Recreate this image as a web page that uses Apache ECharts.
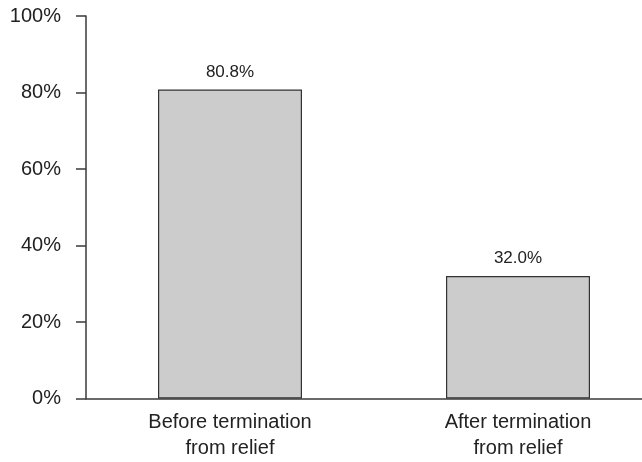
<!DOCTYPE html>
<html>
<head>
<meta charset="utf-8">
<script src="https://cdn.jsdelivr.net/npm/echarts@6/dist/echarts.min.js"></script>
<style>
  html, body { margin: 0; padding: 0; background: #fff; }
  #chart { width: 642px; height: 462px; }
</style>
</head>
<body>
<div id="chart"></div>
<script>
const categories = ["Before termination\nfrom relief", "After termination\nfrom relief"];
const values = [80.8, 32.0];
const yTicks = [0, 20, 40, 60, 80, 100];

const chart = echarts.init(document.getElementById("chart"));
const axisColor = "#3a3a3a";
const font = "Liberation Sans, Arial, sans-serif";

chart.setOption({
  animation: false,
  // plot runs past the right edge, as in the original (axis line clipped by the canvas)
  grid: {
    left: 86, width: 576, top: 16, bottom: 63.5,
    containLabel: false,
    outerBoundsMode: "none"
  },
  xAxis: {
    type: "category",
    data: categories,
    axisLine: { lineStyle: { color: axisColor, width: 1.5 } },
    axisTick: { show: false },
    axisLabel: {
      color: "#222",
      fontFamily: font,
      fontSize: 20,
      lineHeight: 26,
      margin: 11
    }
  },
  yAxis: {
    type: "value",
    min: yTicks[0],
    max: yTicks[yTicks.length - 1],
    interval: 20,
    splitLine: { show: false },
    axisLine: { show: true, lineStyle: { color: axisColor, width: 1.5 } },
    axisTick: { show: true, length: 10, lineStyle: { color: axisColor, width: 1.5 } },
    axisLabel: {
      color: "#222",
      fontFamily: font,
      fontSize: 20,
      margin: 25,
      formatter: "{value}%"
    }
  },
  series: [{
    type: "bar",
    data: values,
    barWidth: "50%",
    itemStyle: { color: "#cccccc", borderColor: "#333", borderWidth: 1.2 },
    label: {
      show: true,
      position: "top",
      distance: 9,
      color: "#222",
      fontFamily: font,
      fontSize: 17,
      formatter: p => p.value.toFixed(1) + "%"
    }
  }]
});
</script>
</body>
</html>
